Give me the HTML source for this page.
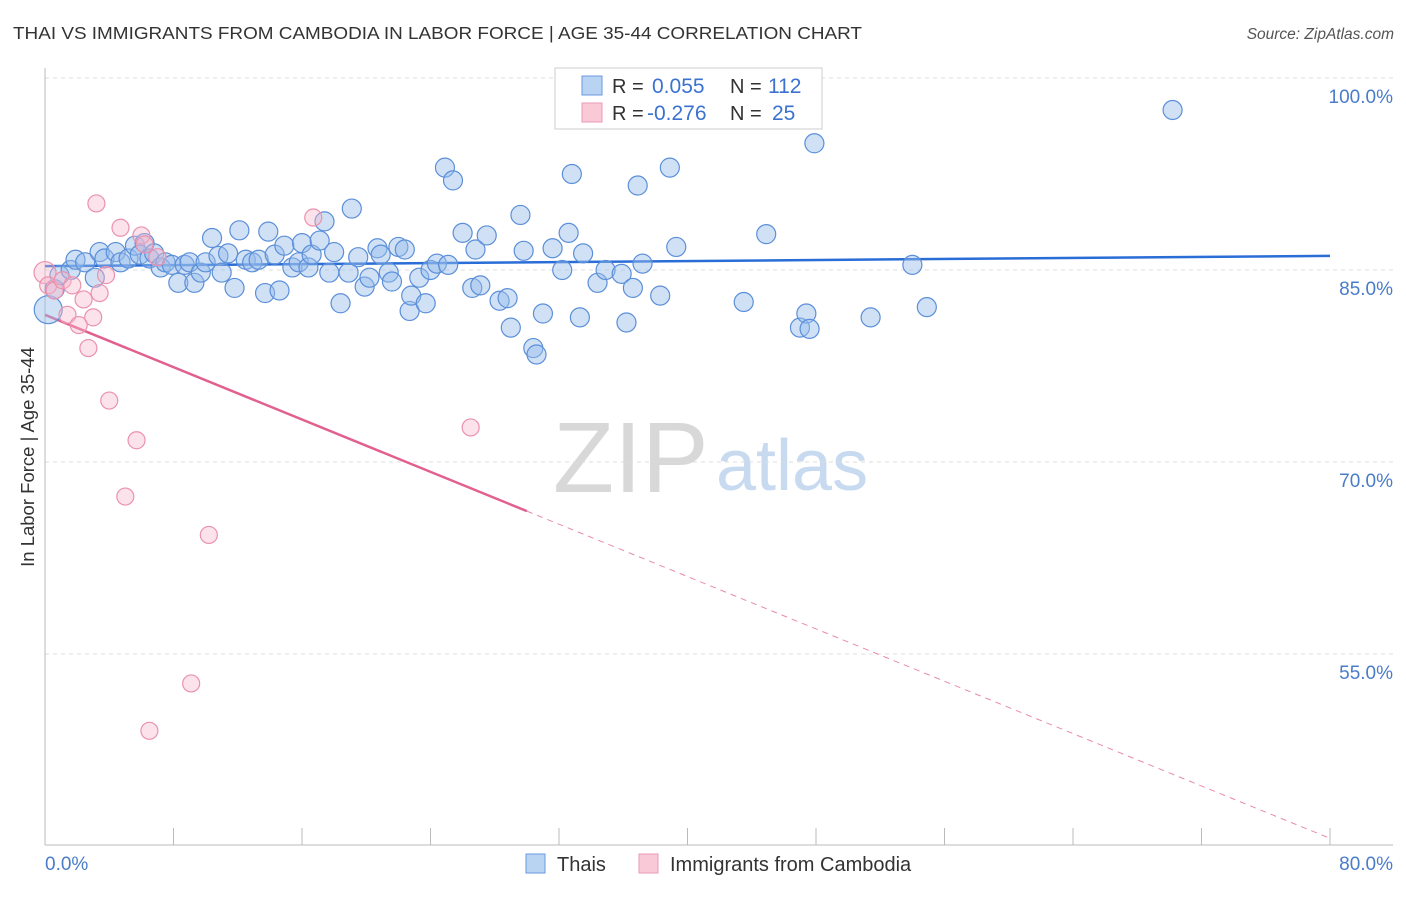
<!DOCTYPE html>
<html><head><meta charset="utf-8"><style>
body{margin:0;background:#fff;font-family:"Liberation Sans",sans-serif}
svg text{font-family:"Liberation Sans",sans-serif}
</style></head><body>
<svg id="chart" width="1406" height="892" viewBox="0 0 1406 892" xmlns="http://www.w3.org/2000/svg">
<text x="13" y="39" font-size="17.5" fill="#333" textLength="849" lengthAdjust="spacingAndGlyphs">THAI VS IMMIGRANTS FROM CAMBODIA IN LABOR FORCE | AGE 35-44 CORRELATION CHART</text>
<text x="1394" y="39" font-size="15.5" fill="#555" text-anchor="end" font-style="italic">Source: ZipAtlas.com</text>
<g>
<text x="553" y="492" font-size="100" fill="#d8d8d8" font-family="Liberation Serif,serif">ZIP</text>
<text x="716" y="490" font-size="72" fill="#c8daf0">atlas</text>
</g>
<g id="grid"></g>
<g id="axes"></g>
<g id="trends"></g>
<g id="points"></g>
<text transform="translate(34,457) rotate(-90)" font-size="18.5" fill="#333" text-anchor="middle">In Labor Force | Age 35-44</text>
<g>
<rect x="555" y="68" width="267" height="61" fill="#fff" stroke="#ccc"/>
<rect x="582" y="76" width="20" height="19" fill="#b9d3f3" stroke="#6a9ae0"/>
<rect x="582" y="103" width="20" height="19" fill="#f9c9d7" stroke="#ec9ab4"/>
<text x="612" y="93" font-size="20" fill="#333">R =</text>
<text x="652" y="93" font-size="21" fill="#3b72d0">0.055</text>
<text x="730" y="93" font-size="20" fill="#333">N =</text>
<text x="768" y="93" font-size="21" fill="#3b72d0">112</text>
<text x="612" y="120" font-size="20" fill="#333">R =</text>
<text x="647" y="120" font-size="21" fill="#3b72d0">-0.276</text>
<text x="730" y="120" font-size="20" fill="#333">N =</text>
<text x="772" y="120" font-size="21" fill="#3b72d0">25</text>
</g>
<g>
<rect x="526" y="854" width="19" height="19" fill="#b9d3f3" stroke="#6a9ae0"/>
<text x="557" y="871" font-size="20" fill="#333">Thais</text>
<rect x="639" y="854" width="19" height="19" fill="#f9c9d7" stroke="#ec9ab4"/>
<text x="670" y="871" font-size="20" fill="#333">Immigrants from Cambodia</text>
</g>
</svg>
<script>
const yTicks=[100,85,70,55];
const yTickLabels=["100.0%","85.0%","70.0%","55.0%"];
const xTicks=[0,8,16,24,32,40,48,56,64,72,80];
const thaiX=[0.2,0.6,0.9,1.6,1.9,2.5,3.1,3.4,3.7,4.4,4.7,5.2,5.6,5.9,6.2,6.5,6.8,7.2,7.5,7.9,8.3,8.7,9.0,9.3,9.7,10.0,10.4,10.8,11.0,11.4,11.8,12.1,12.5,12.9,13.3,13.7,13.9,14.3,14.6,14.9,15.4,15.8,16.0,16.4,16.6,17.1,17.4,17.7,18.0,18.4,18.9,19.1,19.5,19.9,20.2,20.7,20.9,21.4,21.6,22.0,22.4,22.7,22.8,23.3,23.7,24.0,24.4,24.9,25.1,25.4,26.0,26.6,26.8,27.1,27.5,28.3,28.8,29.0,29.6,29.8,30.4,30.6,31.0,31.6,32.2,32.6,32.8,33.3,33.5,34.4,34.9,35.9,36.2,36.6,36.9,37.2,38.3,38.9,39.3,43.5,44.9,47.0,47.4,47.6,47.9,51.4,54.0,54.9,70.2];
const thaiY=[81.9,83.5,84.6,85.0,85.8,85.6,84.4,86.4,85.9,86.4,85.6,85.9,86.9,86.2,87.1,85.9,86.3,85.2,85.6,85.4,84.0,85.4,85.6,84.0,84.8,85.6,87.5,86.1,84.8,86.3,83.6,88.1,85.8,85.6,85.8,83.2,88.0,86.2,83.4,86.9,85.2,85.6,87.1,85.2,86.2,87.3,88.8,84.8,86.4,82.4,84.8,89.8,86.0,83.7,84.4,86.7,86.2,84.8,84.1,86.8,86.6,81.8,83.0,84.4,82.4,85.0,85.5,93.0,85.4,92.0,87.9,83.6,86.6,83.8,87.7,82.6,82.8,80.5,89.3,86.5,78.9,78.4,81.6,86.7,85.0,87.9,92.5,81.3,86.3,84.0,85.0,84.7,80.9,83.6,91.6,85.5,83.0,93.0,86.8,82.5,87.8,80.5,81.6,80.4,94.9,81.3,85.4,82.1,97.5];
const cambX=[0,0.2,0.6,1.1,1.7,2.4,2.7,3.2,3.4,3.0,1.4,2.1,4.0,3.8,4.7,5.7,6.0,6.2,7.0,5.0,10.2,9.1,6.5,16.7,26.5];
const cambY=[84.8,83.8,83.4,84.2,83.8,82.7,78.9,90.2,83.2,81.3,81.5,80.7,74.8,84.6,88.3,71.7,87.7,87.0,86.0,67.3,64.3,52.7,49.0,89.1,72.7];
const thaiTrend=[85.3,86.1];
const cambTrend=[81.5,40.6];
const cambSolidEnd=30;

const NS="http://www.w3.org/2000/svg";
const xs=v=>45+v*16.0625;
const ys=v=>78+(100-v)*12.8;
function mk(tag,attrs,parent){const e=document.createElementNS(NS,tag);for(const k in attrs)e.setAttribute(k,attrs[k]);document.getElementById(parent).appendChild(e);return e;}

yTicks.forEach((t,i)=>{
  const l=mk('line',{x1:45,x2:1393,y1:ys(t),y2:ys(t),stroke:'#ddd','stroke-dasharray':'4,4'},'grid');
  
  
  const tx=mk('text',{x:1393,y:ys(t)+25,'font-size':19,fill:'#4a7cc9','text-anchor':'end'},'grid');
  tx.textContent=yTickLabels[i];
  
  
});
const ax=mk('line',{x1:45,x2:45,y1:68,y2:845,stroke:'#bbb'},'axes');


const bx=mk('line',{x1:45,x2:1393,y1:845,y2:845,stroke:'#bbb'},'axes');


xTicks.forEach(t=>{
  const l=mk('line',{x1:xs(t),x2:xs(t),y1:828,y2:845,stroke:'#bbb'},'axes');
  
  
});
const xl0=mk('text',{x:45,y:870,'font-size':19,fill:'#4a7cc9'},'axes');xl0.textContent='0.0%';


const xl1=mk('text',{x:1393,y:870,'font-size':19,fill:'#4a7cc9','text-anchor':'end'},'axes');xl1.textContent='80.0%';



thaiX.forEach((x,i)=>{
  const c=mk('circle',{cx:xs(x),cy:ys(thaiY[i]),r:i==0?14:9.5,fill:'rgba(150,189,236,0.45)',stroke:'#5b8fd9','stroke-width':1.2},'points');
  
  
});
cambX.forEach((x,i)=>{
  const c=mk('circle',{cx:xs(x),cy:ys(cambY[i]),r:i==0?11:8.5,fill:'rgba(248,182,202,0.4)',stroke:'#eb92ae','stroke-width':1.2},'points');
  
  
});
const t1=mk('line',{x1:xs(0),y1:ys(thaiTrend[0]),x2:xs(80),y2:ys(thaiTrend[1]),stroke:'#2a6dd6','stroke-width':2.5},'trends');


const cy=v=>cambTrend[0]+(cambTrend[1]-cambTrend[0])*v/80;
const t2=mk('line',{x1:xs(0),y1:ys(cy(0)),x2:xs(cambSolidEnd),y2:ys(cy(cambSolidEnd)),stroke:'#e2608f','stroke-width':2.5},'trends');


const t3=mk('line',{x1:xs(cambSolidEnd),y1:ys(cy(cambSolidEnd)),x2:xs(80),y2:ys(cy(80)),stroke:'#e98aab','stroke-width':1,'stroke-dasharray':'6,5'},'trends');


</script>
</body></html>
